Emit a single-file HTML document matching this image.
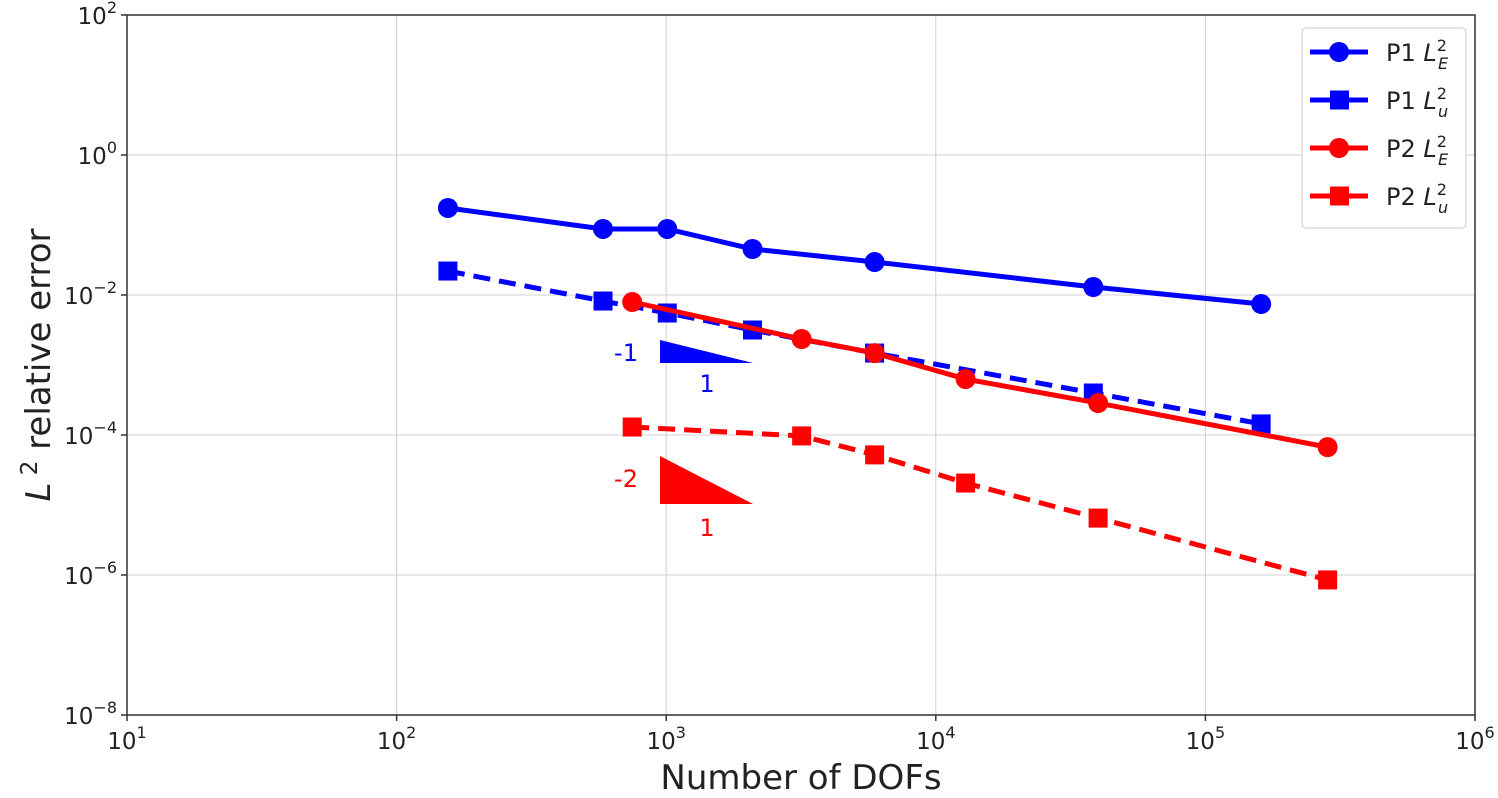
<!DOCTYPE html>
<html><head><meta charset="utf-8"><style>
html,body{margin:0;padding:0;background:#fff;}
svg{display:block;font-family:"DejaVu Sans","Liberation Sans",sans-serif;}
</style></head><body>
<svg id="chart" width="1498" height="798" viewBox="0 0 1498 798" xmlns="http://www.w3.org/2000/svg">
<g id="grid"></g>
<g id="series"></g>
<g id="axes"></g>
<g>
<polygon points="660,340 660,363 753,363" fill="#0000ff"/>
<text x="626" y="361" font-size="24" fill="#0000ff" text-anchor="middle">-1</text>
<text x="707" y="392" font-size="24" fill="#0000ff" text-anchor="middle">1</text>
</g>
<g>
<polygon points="660,456 660,504 753,504" fill="#ff0000"/>
<text x="626" y="487" font-size="24" fill="#ff0000" text-anchor="middle">-2</text>
<text x="707" y="536" font-size="24" fill="#ff0000" text-anchor="middle">1</text>
</g>
<text x="801" y="789" font-size="34" text-anchor="middle" fill="#222">Number of DOFs</text>
<text transform="translate(50,365) rotate(-90)" font-size="34" text-anchor="middle" fill="#222"><tspan font-style="italic">L</tspan><tspan dy="-13" font-size="23"> 2</tspan><tspan dy="13"> relative error</tspan></text>
<g id="legend"></g>
</svg>
<script>
const xs1 = [155, 583, 1009, 2090, 5930, 38400, 161000];
const p1E = [0.175, 0.0877, 0.0877, 0.0454, 0.0296, 0.0130, 0.00743];
const p1U = [0.0220, 0.0082, 0.00553, 0.00316, 0.00148, 0.000398, 0.000144];
const xs2 = [748, 3180, 5930, 12900, 40000, 284000];
const p2E = [0.00794, 0.00235, 0.00148, 0.00063, 0.000286, 0.000067];
const p2U = [0.00013, 0.000097, 0.000052, 0.0000206, 0.0000065, 0.00000085];
const xTickExp = [1, 2, 3, 4, 5, 6];
const yTickExp = [2, 0, -2, -4, -6, -8];

const L = 127, R = 1475, T = 15, B = 715;
const X = v => L + (Math.log10(v) - 1) / 5 * (R - L);
const Y = v => T + (2 - Math.log10(v)) / 10 * (B - T);
const NS = "http://www.w3.org/2000/svg";
function mk(parent, tag, attrs) {
  const e = document.createElementNS(NS, tag);
  for (const k in attrs) e.setAttribute(k, attrs[k]);
  parent.appendChild(e); return e;
}
const grid = document.getElementById('grid');
const axes = document.getElementById('axes');
xTickExp.forEach(p => {
  const x = X(Math.pow(10, p));
  const g = mk(grid, 'line', {x1: x, x2: x, y1: T, y2: B, stroke: '#d0d0d0', 'stroke-width': 1});
  
  
  mk(axes, 'line', {x1: x, x2: x, y1: B, y2: B + 6, stroke: '#333', 'stroke-width': 1.5});
  const t = mk(axes, 'text', {x: x, y: B + 34, 'font-size': 23, 'text-anchor': 'middle', fill: '#222'});
  
  
  t.innerHTML = '10<tspan dy="-11" font-size="16">' + p + '</tspan>';
});
yTickExp.forEach(p => {
  const y = Y(Math.pow(10, p));
  const g = mk(grid, 'line', {x1: L, x2: R, y1: y, y2: y, stroke: '#d0d0d0', 'stroke-width': 1});
  
  
  mk(axes, 'line', {x1: L - 6, x2: L, y1: y, y2: y, stroke: '#333', 'stroke-width': 1.5});
  const t = mk(axes, 'text', {x: L - 10, y: y + 9, 'font-size': 23, 'text-anchor': 'end', fill: '#222'});
  
  
  t.innerHTML = '10<tspan dy="-11" font-size="16">' + (p < 0 ? '\u2212' + (-p) : p) + '</tspan>';
});
const fr = mk(axes, 'rect', {x: L, y: T, width: R - L, height: B - T, fill: 'none', stroke: '#333', 'stroke-width': 1.5});



const ser = document.getElementById('series');
function series(name, xv, yv, color, dashed, square) {
  const g = mk(ser, 'g', {});
  
  
  const pts = xv.map((x, i) => X(x) + ',' + Y(yv[i])).join(' ');
  mk(g, 'polyline', {points: pts, fill: 'none', stroke: color, 'stroke-width': 5, 'stroke-dasharray': dashed ? '17,9' : 'none'});
  xv.forEach((x, i) => {
    const cx = X(x), cy = Y(yv[i]);
    const m = square ? mk(g, 'rect', {x: cx - 9.5, y: cy - 9.5, width: 19, height: 19, fill: color})
                     : mk(g, 'circle', {cx: cx, cy: cy, r: 10, fill: color});
    
    
  });
}
series('p1-le-series', xs1, p1E, '#0000ff', false, false);
series('p1-lu-series', xs1, p1U, '#0000ff', true, true);
series('p2-le-series', xs2, p2E, '#ff0000', false, false);
series('p2-lu-series', xs2, p2U, '#ff0000', true, true);

const lg = document.getElementById('legend');
mk(lg, 'rect', {x: 1302, y: 28, width: 164, height: 200, rx: 4, fill: '#fff', stroke: '#ddd', 'stroke-width': 1.5});
const entries = [['P1', 'E', '#0000ff', false], ['P1', 'u', '#0000ff', true], ['P2', 'E', '#ff0000', false], ['P2', 'u', '#ff0000', true]];
entries.forEach((e, i) => {
  const y = 52 + i * 48;
  const g = mk(lg, 'g', {});
  
  
  mk(g, 'line', {x1: 1310, x2: 1368, y1: y, y2: y, stroke: e[2], 'stroke-width': 5});
  if (e[3]) mk(g, 'rect', {x: 1330, y: y - 9.5, width: 19, height: 19, fill: e[2]});
  else mk(g, 'circle', {cx: 1339, cy: y, r: 10, fill: e[2]});
  const t = mk(g, 'text', {x: 1386, y: y + 9, 'font-size': 24, fill: '#222'});
  t.innerHTML = e[0] + ' <tspan font-style="italic">L</tspan><tspan font-size="16" dy="-10">2</tspan><tspan font-size="16" font-style="italic" dx="-9" dy="18">' + e[1] + '</tspan>';
});
</script>
</body></html>
